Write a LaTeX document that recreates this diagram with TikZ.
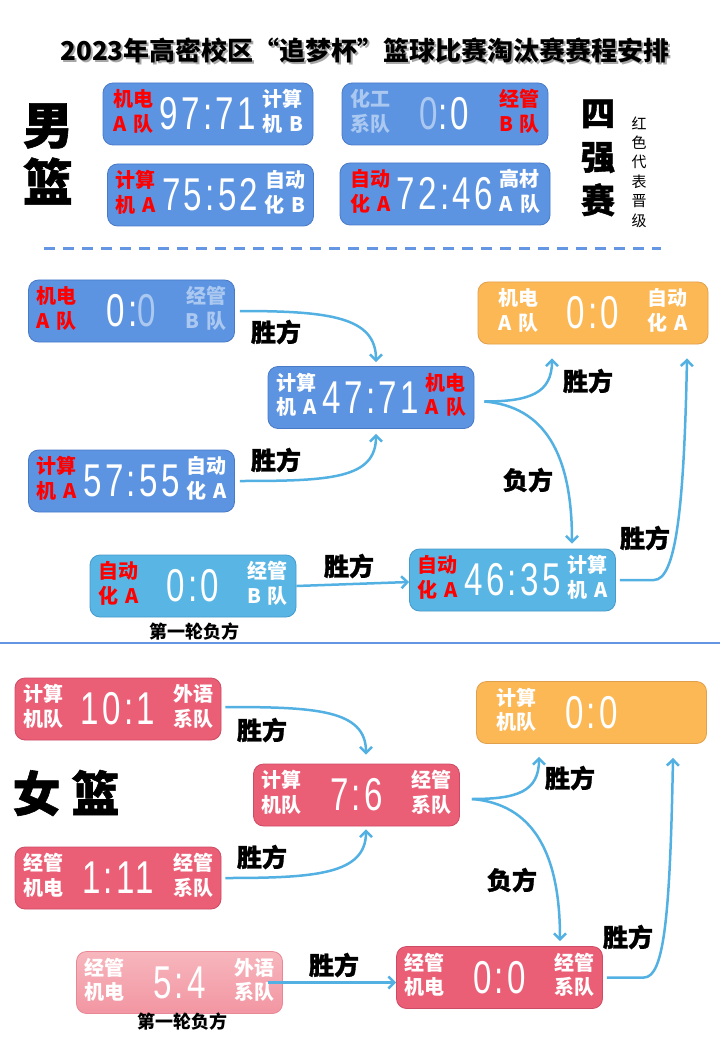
\documentclass[tikz,border=0pt]{standalone}
\usepackage{fontspec}
\usepackage{graphicx}
\setmainfont{Noto Sans CJK SC}
\newfontfamily\heavyfont{Noto Sans CJK SC}[FakeBold=1.2]
\newfontfamily\digitfont{Liberation Sans}[LetterSpace=10]
\usetikzlibrary{arrows.meta}

\definecolor{boxblue}{RGB}{93,148,226}
\definecolor{boxblueline}{RGB}{72,122,200}
\definecolor{boxsky}{RGB}{88,181,228}
\definecolor{boxskyline}{RGB}{70,155,205}
\definecolor{boxorange}{RGB}{253,184,86}
\definecolor{boxorangeline}{RGB}{225,160,75}
\definecolor{boxpink}{RGB}{235,95,118}
\definecolor{boxpinkline}{RGB}{205,75,100}
\definecolor{palepinktop}{RGB}{247,182,189}
\definecolor{palepinkbottom}{RGB}{242,150,162}
\definecolor{palepinkline}{RGB}{232,135,150}
\definecolor{flowblue}{RGB}{82,176,226}
\definecolor{rulecolor}{RGB}{100,150,228}
\definecolor{fadeblue}{RGB}{170,200,240}
\definecolor{wincolor}{RGB}{255,0,0}

% team name on two lines
\newcommand{\team}[3]{{\color{#1}\bfseries\fontsize{20}{24}\selectfont\spaceskip=0.35em%
  \begin{tabular}{@{}c@{}}#2\\#3\end{tabular}}}
% score in tall thin digits
\newcommand{\score}[1]{$\vcenter{\hbox{\color{white}\digitfont\fontsize{46}{46}\selectfont\scalebox{0.72}[1]{#1}}}$}
\newcommand{\fade}[1]{\textcolor{fadeblue}{#1}}
% left team | score | right team
\newcommand{\board}[3]{\makebox[190pt]{#1\hfill#2\hfill#3}}

\begin{document}
\begin{tikzpicture}[
        x=1pt, y=-1pt,
        >={Straight Barb[length=6pt,width=12pt]},
        scoreboard/.style={rectangle, rounded corners=10pt, line width=0.8pt, minimum width=206pt, minimum height=62pt, inner xsep=8pt, inner ysep=0pt, font=\fontsize{20}{24}\selectfont},
        bluebox/.style={scoreboard, fill=boxblue, draw=boxblueline},
        skybox/.style={scoreboard, fill=boxsky, draw=boxskyline},
        orangebox/.style={scoreboard, fill=boxorange, draw=boxorangeline, minimum width=230pt},
        pinkbox/.style={scoreboard, fill=boxpink, draw=boxpinkline},
        palebox/.style={scoreboard, top color=palepinktop, bottom color=palepinkbottom, draw=palepinkline},
        flow/.style={->, draw=flowblue, line width=2.5pt},
        verdict/.style={font=\heavyfont\bfseries\fontsize{25}{25}\selectfont},
        roundnote/.style={font=\bfseries\fontsize{18}{18}\selectfont}
    ]
        \fill[white] (0,0) rectangle (720,1040);
        \useasboundingbox (0,0) rectangle (720,1040);

        % Title
        \node[font=\bfseries\fontsize{26}{30}\selectfont, text=black!35] (titleshadow) at (367,53) {2023年高密校区“追梦杯”篮球比赛淘汰赛赛程安排};
        \node[font=\bfseries\fontsize{26}{30}\selectfont] (title) at (365,51) {2023年高密校区“追梦杯”篮球比赛淘汰赛赛程安排};

        % Men: semi-finals
        \node[font=\heavyfont\bfseries\fontsize{50}{57}\selectfont, align=center] (men) at (48,154) {男\\篮};
        \node[bluebox, minimum width=210pt] (t1) at (208,114) {\board{\team{wincolor}{机电}{A 队}}{\score{97:71}}{\team{white}{计算}{机 B}}};
        \node[bluebox] (t2) at (445,114) {\board{\team{fadeblue}{化工}{系队}}{\score{\fade{0}:0}}{\team{wincolor}{经管}{B 队}}};
        \node[bluebox] (t3) at (210.5,195) {\board{\team{wincolor}{计算}{机 A}}{\score{75:52}}{\team{white}{自动}{化 B}}};
        \node[bluebox, minimum width=210pt] (t4) at (445,194) {\board{\team{wincolor}{自动}{化 A}}{\score{72:46}}{\team{white}{高材}{A 队}}};
        \node[font=\heavyfont\bfseries\fontsize{34}{43.5}\selectfont, align=center] (four) at (598,158) {四\\强\\赛};
        \node[font=\fontsize{15}{19.4}\selectfont, align=center] (legend) at (639,172) {红\\色\\代\\表\\晋\\级};
        \draw[rulecolor, line width=3pt, dash pattern=on 11pt off 8pt] (44,249) -- (661,249);

        % Men: bracket
        \node[bluebox] (m1) at (131.5,311) {\board{\team{wincolor}{机电}{A 队}}{\score{0:\fade{0}}}{\team{fadeblue}{经管}{B 队}}};
        \node[bluebox] (m2) at (131.5,481) {\board{\team{wincolor}{计算}{机 A}}{\score{57:55}}{\team{white}{自动}{化 A}}};
        \node[bluebox] (m3) at (371,397.5) {\board{\team{white}{计算}{机 A}}{\score{47:71}}{\team{wincolor}{机电}{A 队}}};
        \node[orangebox] (m4) at (593,313) {\board{\team{white}{机电}{A 队}}{\score{0:0}}{\team{white}{自动}{化 A}}};
        \node[skybox] (m5) at (193,586) {\board{\team{wincolor}{自动}{化 A}}{\score{0:0}}{\team{white}{经管}{B 队}}};
        \node[skybox] (m6) at (512.5,580) {\board{\team{wincolor}{自动}{化 A}}{\score{46:35}}{\team{white}{计算}{机 A}}};
        \node[roundnote] (m5note) at (194,632) {第一轮负方};

        \coordinate (m3out) at ([xshift=10pt,yshift=-4pt]m3.east);
        \draw[flow] ([xshift=5pt]m1.east) .. controls +(90,0) and +(0,-45) .. ([xshift=5pt,yshift=4pt]m3.north);
        \draw[flow] ([xshift=5pt]m2.east) .. controls +(90,0) and +(0,45) .. ([xshift=5pt,yshift=-5pt]m3.south);
        \draw[flow] (m3out) .. controls +(45,0) and +(0,35) .. ([xshift=-41pt,yshift=-14pt]m4.south);
        \draw[flow] (m3out) .. controls +(60,5) and +(0,-90) .. ([xshift=59.5pt,yshift=5pt]m6.north);
        \draw[flow] (m5.east) -- ([yshift=-2pt]m6.west);
        \draw[flow] ([xshift=4pt]m6.east) -- ++(34,0) .. controls +(22,0) and +(-3,150) .. ([xshift=94pt,yshift=-14pt]m4.south);

        \node[verdict] (mv1) at (276,332) {胜方};
        \node[verdict] (mv2) at (276,460) {胜方};
        \node[verdict] (mv3) at (588,381) {胜方};
        \node[verdict] (mv4) at (528,480) {负方};
        \node[verdict] (mv5) at (349,566) {胜方};
        \node[verdict] (mv6) at (645,538) {胜方};

        \draw[rulecolor, line width=2.5pt] (0,643) -- (720,643);

        % Women: bracket
        \node[font=\heavyfont\bfseries\fontsize{48}{48}\selectfont] (women) at (66,793) {女 篮};
        \node[pinkbox] (w1) at (118,709) {\board{\team{white}{计算}{机队}}{\score{10:1}}{\team{white}{外语}{系队}}};
        \node[pinkbox] (w2) at (118,878) {\board{\team{white}{经管}{机电}}{\score{1:11}}{\team{white}{经管}{系队}}};
        \node[pinkbox] (w3) at (356.5,795) {\board{\team{white}{计算}{机队}}{\score{7:6}}{\team{white}{经管}{系队}}};
        \node[orangebox] (w4) at (591.5,712.5) {\board{\team{white}{计算}{机队}}{\score{0:0}}{\hphantom{\team{white}{计算}{机队}}}};
        \node[palebox] (w5) at (179.5,982.5) {\board{\team{white}{经管}{机电}}{\score{5:4}}{\team{white}{外语}{系队}}};
        \node[pinkbox] (w6) at (499.5,977.5) {\board{\team{white}{经管}{机电}}{\score{0:0}}{\team{white}{经管}{系队}}};
        \node[roundnote] (w5note) at (182,1022) {第一轮负方};

        \coordinate (w3out) at ([xshift=12pt,yshift=-4pt]w3.east);
        \draw[flow] ([xshift=4pt,yshift=2pt]w1.east) .. controls +(90,0) and +(0,-45) .. ([xshift=9.5pt,yshift=9pt]w3.north);
        \draw[flow] ([xshift=4pt]w2.east) .. controls +(90,0) and +(0,45) .. ([xshift=9.5pt,yshift=-3pt]w3.south);
        \draw[flow] (w3out) .. controls +(45,0) and +(0,35) .. ([xshift=-52.5pt,yshift=-13pt]w4.south);
        \draw[flow] (w3out) .. controls +(60,5) and +(0,-90) .. ([xshift=60.5pt,yshift=5pt]w6.north);
        \draw[flow] ([xshift=-15pt]w5.east) -- ([yshift=-5pt]w6.west);
        \draw[flow] ([xshift=4pt]w6.east) -- ++(37,0) .. controls +(20,0) and +(-3,160) .. ([xshift=81.5pt,yshift=-14pt]w4.south);

        \node[verdict] (wv1) at (262,730) {胜方};
        \node[verdict] (wv2) at (262,857) {胜方};
        \node[verdict] (wv3) at (570,778) {胜方};
        \node[verdict] (wv4) at (512,880) {负方};
        \node[verdict] (wv5) at (334,965) {胜方};
        \node[verdict] (wv6) at (628,937) {胜方};

    \end{tikzpicture}
\end{document}
